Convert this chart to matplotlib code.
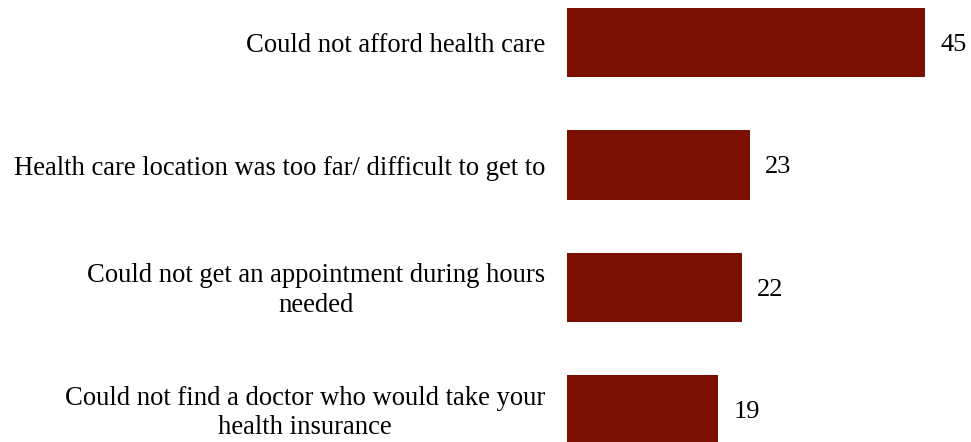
import matplotlib
matplotlib.use("Agg")
import matplotlib.pyplot as plt

categories = [
    "Could not afford health care",
    "Health care location was too far/ difficult to get to",
    "Could not get an appointment during hours\nneeded",
    "Could not find a doctor who would take your\nhealth insurance",
]
values = [45, 23, 22, 19]

plt.rcParams['font.family'] = ['Liberation Serif', 'DejaVu Serif']

fig = plt.figure(figsize=(9.71, 4.42), dpi=100)
ax = fig.add_axes([567 / 971, 0, 1 - 567 / 971, 1])

pos = list(range(len(values)))
ax.barh(pos, values, height=0.571, color="#7B1000")
ax.set_xlim(0, 404 / 7.96)
ax.set_ylim(3.261, -0.347)

for p, v, lab in zip(pos, values, categories):
    ax.text(v + 1.9, p + 0.02, str(v), va="center", ha="left", fontsize=19)
    ax.text(-2.75, p + 0.025, lab, va="center", ha="right",
            multialignment="center", fontsize=19.2, linespacing=1.25)

ax.axis("off")
fig.savefig("out.png", dpi=100)
